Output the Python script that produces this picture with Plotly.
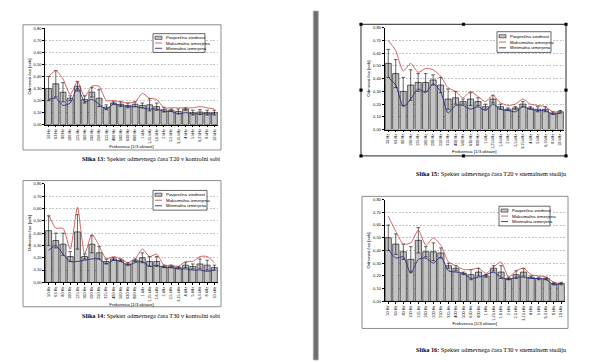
import plotly.graph_objects as go

# The page body has an 8px margin; the figure is sized so it fills the 600x362 window.
PAGE_W, PAGE_H, OFF = 600, 362, 8
W, H = PAGE_W - OFF, PAGE_H - OFF

# ---------------- data ----------------
freq = ["50 Hz", "63 Hz", "80 Hz", "100 Hz", "125 Hz", "160 Hz", "200 Hz", "250 Hz",
        "315 Hz", "400 Hz", "500 Hz", "630 Hz", "800 Hz", "1 kHz", "1,25 kHz", "1,6 kHz",
        "2 kHz", "2,5 kHz", "3,15 kHz", "4 kHz", "5 kHz", "6,3 kHz", "8 kHz", "10 kHz"]
y_ticks = [0.0, 0.1, 0.2, 0.3, 0.4, 0.5, 0.6, 0.7, 0.8]

legend_names = ["Povprečna vrednost", "Maksimalna izmerjena", "Minimalna izmerjena"]
y_title = "Odmevni čas [sek]"
x_title = "Frekvenca [1/3 oktave]"

# Slika 13: T20, kontrolna soba
t20_ks_avg = [0.30, 0.34, 0.27, 0.22, 0.32, 0.21, 0.27, 0.22, 0.145, 0.18, 0.17, 0.16,
              0.17, 0.16, 0.165, 0.15, 0.125, 0.12, 0.11, 0.13, 0.10, 0.105, 0.10, 0.10]
t20_ks_max = [0.40, 0.45, 0.38, 0.25, 0.36, 0.23, 0.32, 0.32, 0.20, 0.20, 0.19, 0.18,
              0.19, 0.26, 0.22, 0.21, 0.14, 0.14, 0.14, 0.14, 0.14, 0.15, 0.14, 0.13]
t20_ks_min = [0.21, 0.22, 0.16, 0.18, 0.31, 0.19, 0.21, 0.17, 0.13, 0.17, 0.16, 0.15,
              0.15, 0.14, 0.13, 0.13, 0.11, 0.11, 0.09, 0.10, 0.09, 0.09, 0.09, 0.09]
t20_ks_std = [0.10, 0.11, 0.08, 0.02, 0.04, 0.03, 0.04, 0.07, 0.02, 0.01, 0.02, 0.02,
              0.02, 0.02, 0.05, 0.03, 0.02, 0.01, 0.02, 0.01, 0.02, 0.02, 0.02, 0.02]

# Slika 14: T30, kontrolna soba
t30_ks_avg = [0.42, 0.34, 0.31, 0.21, 0.41, 0.21, 0.31, 0.24, 0.17, 0.19, 0.18, 0.15,
              0.18, 0.20, 0.17, 0.17, 0.13, 0.13, 0.12, 0.14, 0.13, 0.15, 0.14, 0.12]
t30_ks_max = [0.55, 0.44, 0.44, 0.27, 0.61, 0.23, 0.39, 0.30, 0.19, 0.21, 0.19, 0.16,
              0.19, 0.27, 0.21, 0.23, 0.14, 0.14, 0.13, 0.17, 0.17, 0.21, 0.21, 0.16]
t30_ks_min = [0.26, 0.30, 0.23, 0.17, 0.17, 0.18, 0.19, 0.19, 0.15, 0.18, 0.17, 0.14,
              0.16, 0.17, 0.13, 0.14, 0.12, 0.12, 0.11, 0.11, 0.10, 0.10, 0.09, 0.10]
t30_ks_std = [0.12, 0.06, 0.09, 0.04, 0.14, 0.02, 0.07, 0.05, 0.02, 0.01, 0.01, 0.01,
              0.01, 0.04, 0.04, 0.04, 0.01, 0.01, 0.01, 0.02, 0.02, 0.04, 0.04, 0.02]

# Slika 15: T20, snemalni studio
t20_ss_avg = [0.52, 0.44, 0.30, 0.35, 0.37, 0.37, 0.39, 0.35, 0.24, 0.25, 0.22, 0.24,
              0.22, 0.18, 0.24, 0.18, 0.16, 0.17, 0.20, 0.17, 0.16, 0.16, 0.13, 0.14]
t20_ss_max = [0.70, 0.62, 0.46, 0.52, 0.45, 0.48, 0.47, 0.42, 0.33, 0.30, 0.25, 0.30,
              0.26, 0.22, 0.27, 0.21, 0.19, 0.20, 0.24, 0.20, 0.19, 0.18, 0.14, 0.14]
t20_ss_min = [0.41, 0.35, 0.18, 0.24, 0.32, 0.29, 0.36, 0.30, 0.13, 0.19, 0.19, 0.16,
              0.18, 0.15, 0.20, 0.16, 0.15, 0.14, 0.18, 0.16, 0.15, 0.15, 0.12, 0.13]
t20_ss_std = [0.11, 0.11, 0.11, 0.12, 0.07, 0.07, 0.04, 0.06, 0.08, 0.05, 0.02, 0.05,
              0.03, 0.02, 0.03, 0.02, 0.01, 0.01, 0.02, 0.01, 0.02, 0.02, 0.01, 0.01]

# Slika 16: T30, snemalni studio
t30_ss_avg = [0.50, 0.45, 0.39, 0.33, 0.48, 0.39, 0.39, 0.38, 0.28, 0.26, 0.22, 0.21,
              0.23, 0.20, 0.26, 0.23, 0.18, 0.21, 0.23, 0.19, 0.18, 0.18, 0.14, 0.14]
t30_ss_max = [0.67, 0.55, 0.45, 0.46, 0.56, 0.44, 0.50, 0.44, 0.31, 0.28, 0.25, 0.25,
              0.26, 0.22, 0.27, 0.31, 0.19, 0.24, 0.26, 0.21, 0.20, 0.19, 0.15, 0.14]
t30_ss_min = [0.41, 0.34, 0.35, 0.22, 0.33, 0.34, 0.30, 0.35, 0.24, 0.23, 0.22, 0.18,
              0.19, 0.21, 0.23, 0.19, 0.17, 0.19, 0.19, 0.18, 0.18, 0.17, 0.13, 0.14]
t30_ss_std = [0.10, 0.08, 0.06, 0.10, 0.10, 0.04, 0.07, 0.04, 0.02, 0.02, 0.01, 0.04,
              0.03, 0.01, 0.02, 0.05, 0.01, 0.03, 0.03, 0.01, 0.01, 0.01, 0.01, 0.01]

captions = [
    ("Slika 13:", " Spekter odmevnega časa T20 v kontrolni sobi"),
    ("Slika 14:", " Spekter odmevnega časa T30 v kontrolni sobi"),
    ("Slika 15:", " Spekter odmevnega časa T20 v snemalnem studiju"),
    ("Slika 16:", " Spekter odmevnega časa T30 v snemalnem studiju"),
]

# ---------------- layout geometry (page pixels) ----------------
def px(x):
    return (x - OFF) / W

def py(y):
    return 1 - (y - OFF) / H

charts = [
    dict(data=(t20_ks_avg, t20_ks_max, t20_ks_min, t20_ks_std),
         box=(23, 22, 221, 149), plot=(45, 25.7, 218, 123.3), legend=(153, 31, 205, 50),
         caption=(222, 158), selected=False),
    dict(data=(t30_ks_avg, t30_ks_max, t30_ks_min, t30_ks_std),
         box=(23, 180, 221, 308), plot=(45, 183.3, 218, 283.3), legend=(153, 190, 207, 210),
         caption=(222, 317), selected=False),
    dict(data=(t20_ss_avg, t20_ss_max, t20_ss_min, t20_ss_std),
         box=(361, 21.5, 566, 155), plot=(384.5, 25, 564, 128.3), legend=(497, 29, 551, 50),
         caption=(568, 173), selected=True),
    dict(data=(t30_ss_avg, t30_ss_max, t30_ss_min, t30_ss_std),
         box=(362, 196, 568, 330), plot=(384.5, 199.3, 565, 302.5), legend=(499, 206, 550, 226),
         caption=(568, 351), selected=False),
]

SANS = "Liberation Sans, Arial, sans-serif"
SERIF = "Liberation Serif, Times New Roman, serif"
RED = "#c8403c"
BLUE = "#2c2c86"
BAR = "#c4c4c4"

fig = go.Figure()
shapes = []
annotations = []
layout_axes = {}

for i, ch in enumerate(charts, start=1):
    avg, mx, mn, sd = ch["data"]
    xa = "x" if i == 1 else f"x{i}"
    ya = "y" if i == 1 else f"y{i}"
    fig.add_trace(go.Bar(
        x=freq, y=avg, xaxis=xa, yaxis=ya, name=legend_names[0], showlegend=False,
        marker=dict(color=BAR, line=dict(color="black", width=0.6)),
        error_y=dict(type="data", array=sd, color="black", thickness=0.6, width=1.8),
    ))
    fig.add_trace(go.Scatter(
        x=freq, y=mx, xaxis=xa, yaxis=ya, name=legend_names[1], showlegend=False,
        mode="lines", line=dict(color=RED, width=0.8, shape="spline", smoothing=0.6),
    ))
    fig.add_trace(go.Scatter(
        x=freq, y=mn, xaxis=xa, yaxis=ya, name=legend_names[2], showlegend=False,
        mode="lines", line=dict(color=BLUE, width=0.9, shape="spline", smoothing=0.6),
    ))

    x0, y0, x1, y1 = ch["plot"]
    xkey = "xaxis" if i == 1 else f"xaxis{i}"
    ykey = "yaxis" if i == 1 else f"yaxis{i}"
    layout_axes[xkey] = dict(
        domain=[px(x0), px(x1)], anchor=ya, type="category",
        tickangle=-90, tickfont=dict(size=3.8, family=SANS, color="black"),
        showline=True, linecolor="black", linewidth=0.6,
        ticks="outside", ticklen=2, tickwidth=0.5, tickcolor="black",
        showgrid=False, zeroline=False, fixedrange=True,
        title=dict(text=x_title, font=dict(size=4.4, family=SANS, color="black"), standoff=1),
    )
    layout_axes[ykey] = dict(
        domain=[py(y1), py(y0)], anchor=xa, range=[0, 0.8],
        tickvals=y_ticks, tickformat=".2f",
        tickfont=dict(size=4.0, family=SANS, color="black"),
        showline=True, linecolor="black", linewidth=0.6,
        ticks="outside", ticklen=2, tickwidth=0.5, tickcolor="black",
        showgrid=True, gridcolor="#c4c4c4", gridwidth=0.5, griddash="2px,1.5px",
        zeroline=False, fixedrange=True,
        title=dict(text=y_title, font=dict(size=4.4, family=SANS, color="black"), standoff=2),
    )

    # chart area border
    bx0, by0, bx1, by1 = ch["box"]
    shapes.append(dict(type="rect", xref="paper", yref="paper",
                       x0=px(bx0), x1=px(bx1), y0=py(by1), y1=py(by0),
                       line=dict(color="#505050" if ch["selected"] else "#8c8c8c",
                                 width=1.2 if ch["selected"] else 1.0),
                       fillcolor="rgba(0,0,0,0)", layer="below"))
    if ch["selected"]:
        mxp, myp = (bx0 + bx1) / 2, (by0 + by1) / 2
        for hx, hy in [(bx0, by0), (mxp, by0), (bx1, by0), (bx0, myp), (bx1, myp),
                       (bx0, by1), (mxp, by1), (bx1, by1)]:
            shapes.append(dict(type="rect", xref="paper", yref="paper",
                               x0=px(hx - 1.3), x1=px(hx + 1.3), y0=py(hy + 1.3), y1=py(hy - 1.3),
                               line=dict(color="black", width=0.5), fillcolor="black"))

    # legend (drawn)
    lx0, ly0, lx1, ly1 = ch["legend"]
    shapes.append(dict(type="rect", xref="paper", yref="paper",
                       x0=px(lx0), x1=px(lx1), y0=py(ly1), y1=py(ly0),
                       line=dict(color="black", width=0.6), fillcolor="white"))
    rows = [ly0 + (ly1 - ly0) * f for f in (0.22, 0.5, 0.78)]
    sx0, sx1 = lx0 + 2, lx0 + 9
    shapes.append(dict(type="rect", xref="paper", yref="paper",
                       x0=px(sx0), x1=px(sx1), y0=py(rows[0] + 1.6), y1=py(rows[0] - 1.6),
                       line=dict(color="black", width=0.5), fillcolor=BAR))
    shapes.append(dict(type="line", xref="paper", yref="paper",
                       x0=px(sx0), x1=px(sx1), y0=py(rows[1]), y1=py(rows[1]),
                       line=dict(color=RED, width=0.8)))
    shapes.append(dict(type="line", xref="paper", yref="paper",
                       x0=px(sx0), x1=px(sx1), y0=py(rows[2]), y1=py(rows[2]),
                       line=dict(color=BLUE, width=0.9)))
    for name, ry in zip(legend_names, rows):
        annotations.append(dict(text=name, xref="paper", yref="paper",
                                x=px(sx1 + 1.5), y=py(ry), xanchor="left", yanchor="middle",
                                showarrow=False, font=dict(size=4.4, family=SANS, color="black")))

    # caption
    cx, cy = ch["caption"]
    bold, rest = captions[i - 1]
    annotations.append(dict(text=f"<b>{bold}</b>{rest}", xref="paper", yref="paper",
                            x=px(cx), y=py(cy), xanchor="right", yanchor="middle",
                            showarrow=False, font=dict(size=6.2, family=SERIF, color="black")))

# page separator bar
shapes.append(dict(type="rect", xref="paper", yref="paper",
                   x0=px(313.3), x1=px(318.3), y0=0, y1=1,
                   line=dict(color="#a8a8a8", width=0.8), fillcolor="#6e6e6e"))

fig.update_layout(
    width=W, height=H, margin=dict(l=0, r=0, t=0, b=0),
    paper_bgcolor="white", plot_bgcolor="white",
    separators=",.", showlegend=False, bargap=0.18,
    font=dict(family=SANS, size=5, color="black"),
    shapes=shapes, annotations=annotations,
    **layout_axes,
)

fig.write_html("out.html", config={"displayModeBar": False})
